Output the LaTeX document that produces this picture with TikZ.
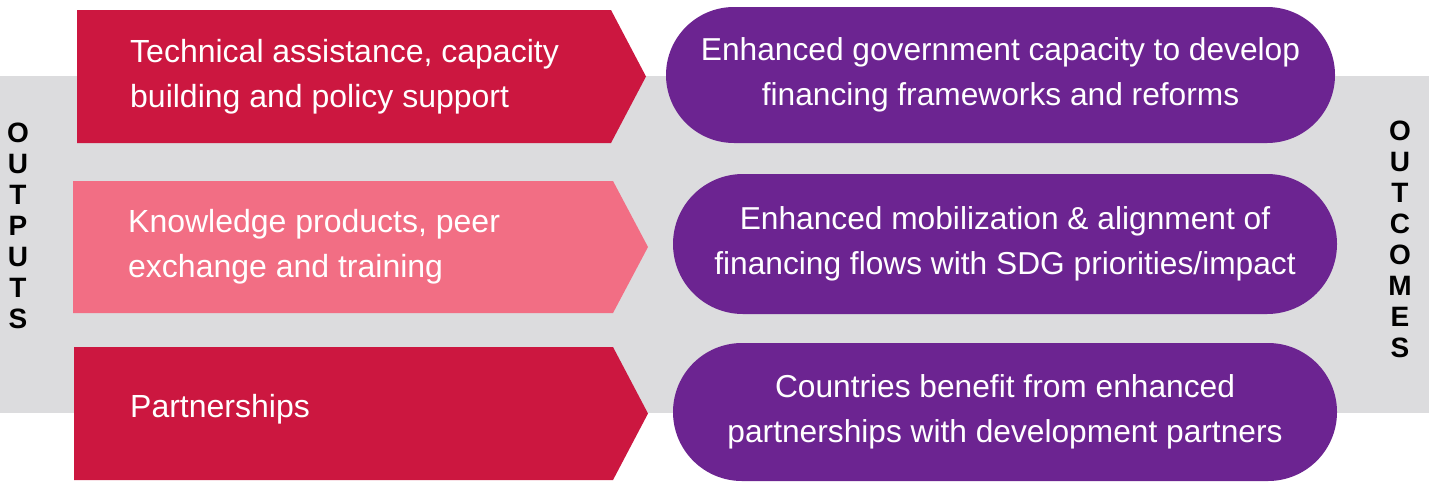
\documentclass[tikz,border=0pt]{standalone}
\usepackage{fontspec}
\setmainfont{Liberation Sans}
\usetikzlibrary{shapes.misc}
\definecolor{outred}{HTML}{CC1740}
\definecolor{outpink}{HTML}{F26E84}
\definecolor{ocpurple}{HTML}{6C2491}
\definecolor{bandgray}{HTML}{DCDCDE}
\begin{document}
\begin{tikzpicture}[x=1pt,y=-1pt]
\tikzstyle{pill}=[rounded rectangle,fill=ocpurple,text=white,inner sep=0pt,align=center,font=\fontsize{31.7}{45}\selectfont]
\tikzstyle{outtext}=[anchor=west,text=white,inner sep=0pt,align=left,font=\fontsize{32}{45}\selectfont]
\tikzstyle{sidetext}=[inner sep=0pt,align=center,font=\bfseries\fontsize{28}{31}\selectfont]
\useasboundingbox (0,0) rectangle (1429,483);
% grey band behind both columns
\fill[bandgray] (0,76) rectangle (1429,413);
% outputs
\fill[outred]  (77,10)  -- (611,10)  -- (646,76.5) -- (611,143) -- (77,143) -- cycle;
\fill[outpink] (73,181) -- (613,181) -- (648,247)  -- (613,313) -- (73,313) -- cycle;
\fill[outred]  (74,347) -- (613,347) -- (648,413.5) -- (613,480) -- (74,480) -- cycle;
\node[outtext] (op1) at (130,77)  {Technical assistance, capacity\\building and policy support};
\node[outtext] (op2) at (128,247) {Knowledge products, peer\\exchange and training};
\node[outtext] (op3) at (130,409) {Partnerships};
% outcomes
\node[pill,minimum width=669,minimum height=136] (oc1) at (1000.5,75) {Enhanced government capacity to develop\\financing frameworks and reforms};
\node[pill,minimum width=664,minimum height=140] (oc2) at (1005,244)  {Enhanced mobilization \& alignment of\\financing flows with SDG priorities/impact};
\node[pill,minimum width=664,minimum height=138] (oc3) at (1005,412)  {Countries benefit from enhanced\\partnerships with development partners};
% side labels
\node[sidetext] (outputs)  at (18,225.5) {O\\U\\T\\P\\U\\T\\S};
\node[sidetext] (outcomes) at (1400,239) {O\\U\\T\\C\\O\\M\\E\\S};
\end{tikzpicture}
\end{document}
